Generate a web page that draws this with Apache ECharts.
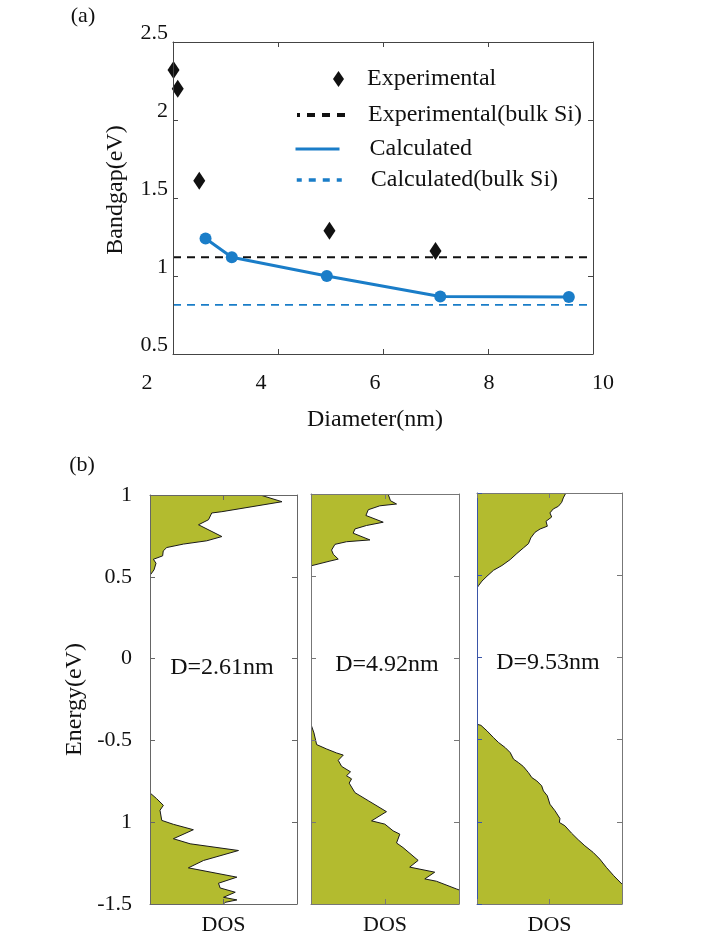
<!DOCTYPE html>
<html><head><meta charset="utf-8">
<script src="https://cdn.jsdelivr.net/npm/echarts@6/dist/echarts.min.js"></script>
<style>html,body{margin:0;padding:0;background:#fff}#c{width:719px;height:948px}</style>
</head><body><div id="c"></div><script>
// ---- Panel (a) data ----
const expDiameter = [2.01, 2.09, 2.50, 4.98, 7.00];
const expBandgap  = [2.32, 2.20, 1.61, 1.29, 1.16];
const calcDiameter = [2.62, 3.12, 4.93, 7.09, 9.54];
const calcBandgap  = [1.24, 1.12, 1.00, 0.868, 0.865];
const bulkExpGap = 1.12;
const bulkCalcGap = 0.815;
const diameterRange = [2, 10];
const bandgapRange = [0.5, 2.5];
const seriesNames = ['Experimental', 'Experimental(bulk Si)', 'Calculated', 'Calculated(bulk Si)'];

// ---- Panel (b) data: [DOS, Energy] ----
const energyRange = [-1.5, 1];
const energyTickLabels = ['-1.5', '1', '-0.5', '0', '0.5', '1']; // as printed in the figure
const panelLabels = ['D=2.61nm', 'D=4.92nm', 'D=9.53nm'];
const dosUpper1 = [[0.75,1.0],[0.898,0.959],[0.489,0.898],[0.42,0.89],[0.398,0.849],[0.33,0.818],[0.489,0.746],[0.386,0.72],[0.227,0.70],[0.114,0.679],[0.09,0.658],[0.086,0.628],[0.023,0.607],[0.041,0.583],[0.027,0.542],[0,0.509]];
const dosLower1 = [[0,-0.821],[0.045,-0.856],[0.091,-0.897],[0.068,-0.927],[0.08,-0.989],[0.159,-1.013],[0.295,-1.046],[0.159,-1.101],[0.273,-1.132],[0.602,-1.173],[0.364,-1.234],[0.261,-1.279],[0.591,-1.336],[0.466,-1.373],[0.477,-1.402],[0.58,-1.428],[0.5,-1.459],[0.591,-1.475],[0.511,-1.49],[0.5,-1.5]];
const dosUpper2 = [[0.521,1.0],[0.537,0.959],[0.578,0.939],[0.465,0.928],[0.387,0.904],[0.371,0.869],[0.488,0.828],[0.375,0.808],[0.297,0.787],[0.285,0.761],[0.398,0.72],[0.24,0.709],[0.162,0.693],[0.139,0.658],[0.151,0.632],[0.184,0.603],[0.128,0.591],[0,0.562]];
const dosLower2 = [[0,-0.405],[0.02,-0.457],[0.038,-0.528],[0.106,-0.555],[0.173,-0.579],[0.218,-0.592],[0.184,-0.624],[0.207,-0.661],[0.267,-0.694],[0.24,-0.718],[0.274,-0.737],[0.258,-0.763],[0.297,-0.821],[0.387,-0.87],[0.51,-0.937],[0.409,-0.993],[0.499,-1.013],[0.555,-1.054],[0.6,-1.074],[0.578,-1.128],[0.622,-1.156],[0.724,-1.234],[0.667,-1.275],[0.836,-1.306],[0.769,-1.347],[0.847,-1.361],[0.982,-1.408],[1.0,-1.414]];
const dosUpper3 = [[0.613,1.0],[0.595,0.970],[0.584,0.943],[0.561,0.919],[0.526,0.903],[0.503,0.879],[0.515,0.854],[0.476,0.828],[0.485,0.798],[0.435,0.781],[0.400,0.761],[0.371,0.727],[0.355,0.692],[0.320,0.666],[0.275,0.632],[0.229,0.595],[0.172,0.559],[0.114,0.530],[0.069,0.494],[0.034,0.464],[0.011,0.437],[0,0.423]];
const dosLower3 = [[0,-0.407],[0.027,-0.413],[0.069,-0.447],[0.114,-0.488],[0.149,-0.518],[0.195,-0.549],[0.229,-0.579],[0.252,-0.619],[0.286,-0.640],[0.320,-0.664],[0.355,-0.701],[0.378,-0.731],[0.412,-0.751],[0.446,-0.781],[0.458,-0.812],[0.485,-0.842],[0.503,-0.893],[0.538,-0.933],[0.572,-0.980],[0.568,-1.004],[0.606,-1.024],[0.652,-1.069],[0.698,-1.109],[0.744,-1.146],[0.801,-1.186],[0.847,-1.227],[0.892,-1.277],[0.943,-1.328],[1.0,-1.379]];

const FONT = '"Liberation Serif","Times New Roman",serif';
const BLUE = '#1a7dc8';
const OLIVE = '#b3bb2f';
const AXC = '#444';

const chart = echarts.init(document.getElementById('c'));

function boxAxis(gridIndex, position, min, max, interval, color, extra) {
  return Object.assign({
    type: 'value', gridIndex, position, min, max, interval, z: 5,
    axisLine: { show: true, onZero: false, lineStyle: { color: color || AXC, width: 1 } },
    axisTick: { show: true, inside: true, length: 5, lineStyle: { color: color || AXC } },
    axisLabel: { show: false },
    splitLine: { show: false }
  }, extra || {});
}

function makeDos(axisIdx, upper, lower) {
  return {
    type: 'custom', xAxisIndex: axisIdx, yAxisIndex: axisIdx, z: 2, clip: true,
    data: upper.concat(lower), encode: { x: 0, y: 1 },
    renderItem: function (params, api) {
      if (params.dataIndex !== 0) return null;
      const upPoly = [[0, upper[0][1]]].concat(upper).map(p => api.coord(p));
      const low = lower.slice();
      const last = low[low.length - 1];
      if (last[1] > energyRange[0]) low.push([last[0], energyRange[0]]);
      low.push([0, energyRange[0]]);
      const lowPoly = low.map(p => api.coord(p));
      return {
        type: 'group',
        children: [
          { type: 'polygon', shape: { points: upPoly }, style: { fill: OLIVE, stroke: null } },
          { type: 'polygon', shape: { points: lowPoly }, style: { fill: OLIVE, stroke: null } },
          { type: 'polyline', shape: { points: upper.map(p => api.coord(p)) }, style: { fill: null, stroke: '#1a1a1a', lineWidth: 1 } },
          { type: 'polyline', shape: { points: lower.map(p => api.coord(p)) }, style: { fill: null, stroke: '#1a1a1a', lineWidth: 1 } }
        ]
      };
    }
  };
}

const energyLabel = v => energyTickLabels[Math.round((v - energyRange[0]) / 0.5)];

const grids = [
  { left: 173, top: 42, width: 420, height: 312 },
  { left: 150, top: 495, width: 147, height: 409 },
  { left: 311, top: 494, width: 148, height: 410 },
  { left: 477, top: 493, width: 145, height: 411 },
  { left: 147, top: 42, width: 456, height: 312 } // label axis for panel (a) x
];

const xAxes = [
  boxAxis(0, 'bottom', diameterRange[0], diameterRange[1], 2),
  boxAxis(0, 'top', diameterRange[0], diameterRange[1], 2),
  {
    type: 'value', gridIndex: 4, position: 'bottom', min: diameterRange[0], max: diameterRange[1], interval: 2,
    axisLine: { show: false }, axisTick: { show: false }, splitLine: { show: false },
    axisLabel: { show: true, margin: 18, color: '#111', fontSize: 22, fontFamily: FONT },
    name: 'Diameter(nm)', nameLocation: 'middle', nameGap: 54,
    nameTextStyle: { color: '#111', fontSize: 24, fontFamily: FONT }
  }
];
const yAxes = [
  boxAxis(0, 'left', bandgapRange[0], bandgapRange[1], 0.5, AXC, {
    axisLabel: { show: true, margin: 5, verticalAlign: 'bottom', lineHeight: 17, color: '#111', fontSize: 22, fontFamily: FONT },
    name: 'Bandgap(eV)', nameLocation: 'middle', nameGap: 45,
    nameTextStyle: { color: '#111', fontSize: 24, fontFamily: FONT, padding: [0, 0, 0, 16] }
  }),
  boxAxis(0, 'right', bandgapRange[0], bandgapRange[1], 0.5),
  { type: 'value', gridIndex: 4, show: false, min: bandgapRange[0], max: bandgapRange[1] }
];
const panelColors = ['#666', '#777', '#777'];
for (let p = 0; p < 3; p++) {
  const g = p + 1;
  xAxes.push(boxAxis(g, 'bottom', 0, 1, 0.5, panelColors[p], {
    name: 'DOS', nameLocation: 'middle', nameGap: 10,
    nameTextStyle: { color: '#111', fontSize: 22, fontFamily: FONT, verticalAlign: 'top' }
  }));
  xAxes.push(boxAxis(g, 'top', 0, 1, 0.5, panelColors[p]));
  const leftExtra = p === 0 ? {
    axisLabel: { show: true, margin: 18, color: '#111', fontSize: 22, fontFamily: FONT, formatter: energyLabel },
    name: 'Energy(eV)', nameLocation: 'middle', nameGap: 63,
    nameTextStyle: { color: '#111', fontSize: 24, fontFamily: FONT }
  } : {};
  yAxes.push(boxAxis(g, 'left', energyRange[0], energyRange[1], 0.5, p === 2 ? '#3a55a8' : panelColors[p], leftExtra));
  yAxes.push(boxAxis(g, 'right', energyRange[0], energyRange[1], 0.5, panelColors[p]));
}
function dosSeriesFor(p, up, low) {
  const s = makeDos(0, up, low);
  s.xAxisIndex = 3 + 2 * p; s.yAxisIndex = 3 + 2 * p;
  return s;
}

const legendText = { color: '#111', fontSize: 24, fontFamily: FONT };

const option = {
  animation: false,
  backgroundColor: '#fff',
  grid: grids,
  xAxis: xAxes,
  yAxis: yAxes,
  legend: [
    { data: [seriesNames[0]], padding: 0, left: 333, top: 67, itemWidth: 11, itemHeight: 16, icon: 'diamond', selectedMode: false,
      itemStyle: { opacity: 1, color: '#111' },
      textStyle: Object.assign({ padding: [0, 0, 0, 18] }, legendText) },
    { data: [seriesNames[1]], padding: 0, left: 295, top: 103, itemWidth: 48, itemHeight: 14, selectedMode: false,
      lineStyle: { width: 4, type: [8, 7], dashOffset: 5 }, itemStyle: { opacity: 0 },
      textStyle: Object.assign({ padding: [0, 0, 0, 18] }, legendText) },
    { data: [seriesNames[2]], padding: 0, left: 294, top: 137, itemWidth: 44, itemHeight: 14, selectedMode: false,
      lineStyle: { width: 3 }, itemStyle: { opacity: 0 },
      textStyle: Object.assign({ padding: [0, 0, 0, 25] }, legendText) },
    { data: [seriesNames[3]], padding: 0, left: 295, top: 168, itemWidth: 45, itemHeight: 14, selectedMode: false,
      lineStyle: { width: 3.5, type: [7, 7], dashOffset: 2 }, itemStyle: { opacity: 0 },
      textStyle: Object.assign({ padding: [0, 0, 0, 24] }, legendText) }
  ],
  series: [
    { name: seriesNames[0], type: 'scatter', xAxisIndex: 0, yAxisIndex: 0, symbol: 'diamond', symbolSize: [12, 18],
      itemStyle: { color: '#111', opacity: 1 }, z: 4,
      data: expDiameter.map((d, i) => [d, expBandgap[i]]) },
    { name: seriesNames[1], type: 'line', xAxisIndex: 0, yAxisIndex: 0, symbol: 'none',
      lineStyle: { color: '#111', width: 2, type: [8, 6] }, itemStyle: { color: '#111' },
      data: [[diameterRange[0], bulkExpGap], [diameterRange[1], bulkExpGap]] },
    { name: seriesNames[2], type: 'line', xAxisIndex: 0, yAxisIndex: 0, symbol: 'circle', symbolSize: 12,
      lineStyle: { color: BLUE, width: 3 }, itemStyle: { color: BLUE, opacity: 1 }, z: 3,
      data: calcDiameter.map((d, i) => [d, calcBandgap[i]]) },
    { name: seriesNames[3], type: 'line', xAxisIndex: 0, yAxisIndex: 0, symbol: 'none',
      lineStyle: { color: BLUE, width: 1.8, type: [8, 6] }, itemStyle: { color: BLUE },
      data: [[diameterRange[0], bulkCalcGap], [diameterRange[1], bulkCalcGap]] },
    dosSeriesFor(0, dosUpper1, dosLower1),
    dosSeriesFor(1, dosUpper2, dosLower2),
    dosSeriesFor(2, dosUpper3, dosLower3)
  ],
  graphic: [
    { type: 'text', x: 83, y: 16, style: { text: '(a)', font: '22px ' + FONT, fill: '#111', align: 'center', verticalAlign: 'middle' } },
    { type: 'text', x: 82, y: 465, style: { text: '(b)', font: '22px ' + FONT, fill: '#111', align: 'center', verticalAlign: 'middle' } },
    { type: 'text', x: 222, y: 668, z: 10, style: { text: panelLabels[0], font: '24px ' + FONT, fill: '#111', align: 'center', verticalAlign: 'middle' } },
    { type: 'text', x: 387, y: 665, z: 10, style: { text: panelLabels[1], font: '24px ' + FONT, fill: '#111', align: 'center', verticalAlign: 'middle' } },
    { type: 'text', x: 548, y: 663, z: 10, style: { text: panelLabels[2], font: '24px ' + FONT, fill: '#111', align: 'center', verticalAlign: 'middle' } }
  ]
};
chart.setOption(option);
</script></body></html>
